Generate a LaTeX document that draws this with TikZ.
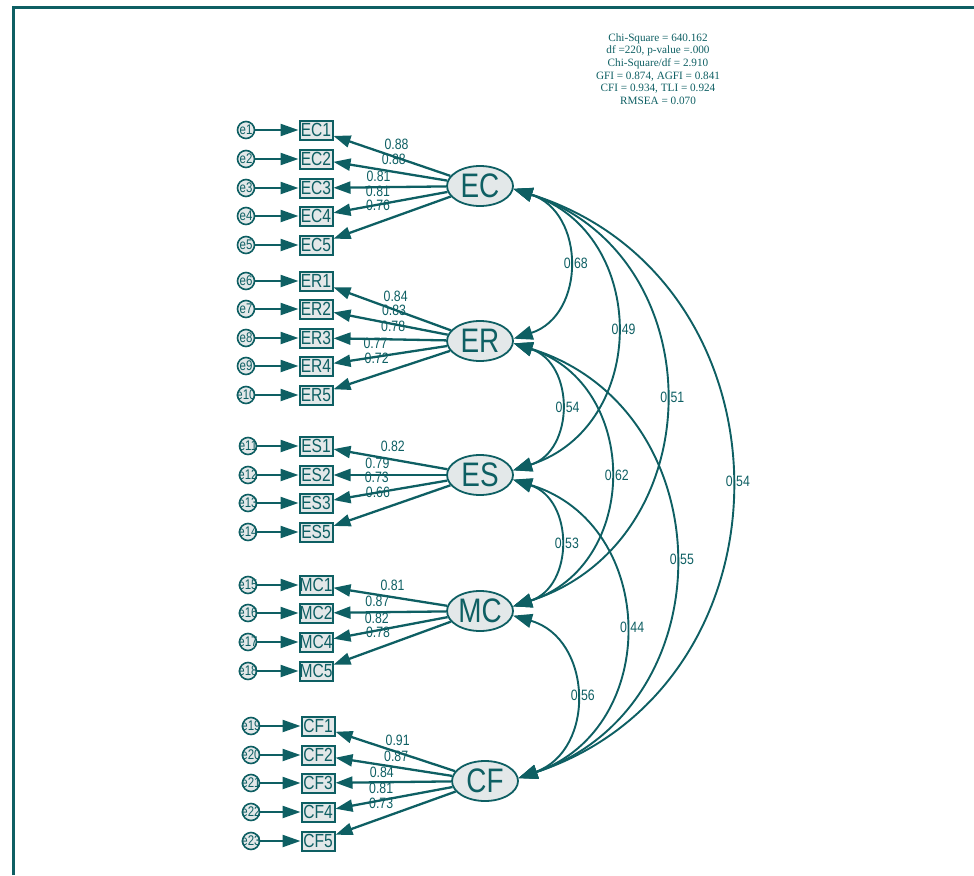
\documentclass[tikz,border=0pt]{standalone}
\usepackage{fontspec}
\setmainfont{Liberation Sans}[FakeStretch=0.82]
\newfontfamily\statsfont{Liberation Serif}
\usetikzlibrary{arrows.meta,shapes.geometric}
\definecolor{semteal}{HTML}{0E5F63}
\definecolor{semfill}{HTML}{E3E8E9}

\tikzset{
  latent/.style={ellipse, draw=semteal, fill=semfill, line width=1.8pt,
    minimum width=66pt, minimum height=40pt, inner sep=0pt, text=semteal,
    font=\fontsize{34}{34}\selectfont},
  item/.style={rectangle, draw=semteal, fill=semfill, line width=2pt,
    minimum width=33pt, minimum height=19pt, inner sep=0pt, text=semteal,
    font=\fontsize{19}{19}\selectfont},
  errc/.style={circle, draw=semteal, fill=semfill, line width=1.6pt,
    minimum size=17pt, inner sep=0pt, text=semteal,
    font=\fontsize{14}{14}\selectfont},
  coef/.style={text=semteal, inner sep=0pt, font=\fontsize{15}{15}\selectfont},
  loading/.style={draw=semteal, line width=2.3pt, -{Triangle[length=17pt,width=12pt]}},
  errarr/.style={draw=semteal, line width=2.3pt, -{Triangle[length=18pt,width=12pt]}},
  covarc/.style={draw=semteal, line width=1.9pt,
    {Triangle[length=19pt,width=14pt]}-{Triangle[length=19pt,width=14pt]},
    bend left=72, looseness=1.3},
}

\begin{document}
\begin{tikzpicture}[x=1pt,y=-1pt]
            \useasboundingbox (0,0) rectangle (974,875);
            \draw[semteal, line width=3pt] (13,875) -- (13,7.5) -- (974,7.5);

            \node[text=semteal, align=center, font=\statsfont\fontsize{11.2}{12.6}\selectfont] (fit) at (658,69)
                {Chi-Square = 640.162\\df =220, p-value =.000\\Chi-Square/df = 2.910\\GFI = 0.874, AGFI = 0.841\\CFI = 0.934, TLI = 0.924\\RMSEA = 0.070};

            % latent factors
            \node[latent](EC) at (480,186) {EC};
            \node[latent](ER) at (480,341) {ER};
            \node[latent](ES) at (480,475) {ES};
            \node[latent](MC) at (480,611) {MC};
            \node[latent](CF) at (485,781) {CF};

            % indicators
            \node[item](EC1) at (316,130) {EC1};
            \node[item](EC2) at (316,159) {EC2};
            \node[item](EC3) at (316,188) {EC3};
            \node[item](EC4) at (316,216) {EC4};
            \node[item](EC5) at (316,245) {EC5};
            \node[item](ER1) at (316,281) {ER1};
            \node[item](ER2) at (316,309) {ER2};
            \node[item](ER3) at (316,338) {ER3};
            \node[item](ER4) at (316,366) {ER4};
            \node[item](ER5) at (316,395) {ER5};
            \node[item](ES1) at (316,446) {ES1};
            \node[item](ES2) at (316,475) {ES2};
            \node[item](ES3) at (316,503) {ES3};
            \node[item](ES5) at (316,532) {ES5};
            \node[item](MC1) at (316,585) {MC1};
            \node[item](MC2) at (316,613) {MC2};
            \node[item](MC4) at (316,642) {MC4};
            \node[item](MC5) at (316,671) {MC5};
            \node[item](CF1) at (318,726) {CF1};
            \node[item](CF2) at (318,755) {CF2};
            \node[item](CF3) at (318,783) {CF3};
            \node[item](CF4) at (318,812) {CF4};
            \node[item](CF5) at (318,841) {CF5};

            % error terms
            \node[errc](e1)  at (246,130) {\makebox[0pt]{e1}};
            \node[errc](e2)  at (246,159) {\makebox[0pt]{e2}};
            \node[errc](e3)  at (246,188) {\makebox[0pt]{e3}};
            \node[errc](e4)  at (246,216) {\makebox[0pt]{e4}};
            \node[errc](e5)  at (246,245) {\makebox[0pt]{e5}};
            \node[errc](e6)  at (246,281) {\makebox[0pt]{e6}};
            \node[errc](e7)  at (246,309) {\makebox[0pt]{e7}};
            \node[errc](e8)  at (246,338) {\makebox[0pt]{e8}};
            \node[errc](e9)  at (246,366) {\makebox[0pt]{e9}};
            \node[errc](e10) at (246,395) {\makebox[0pt]{e10}};
            \node[errc](e11) at (248,446) {\makebox[0pt]{e11}};
            \node[errc](e12) at (248,475) {\makebox[0pt]{e12}};
            \node[errc](e13) at (248,503) {\makebox[0pt]{e13}};
            \node[errc](e14) at (248,532) {\makebox[0pt]{e14}};
            \node[errc](e15) at (248,585) {\makebox[0pt]{e15}};
            \node[errc](e16) at (248,613) {\makebox[0pt]{e16}};
            \node[errc](e17) at (248,642) {\makebox[0pt]{e17}};
            \node[errc](e18) at (248,671) {\makebox[0pt]{e18}};
            \node[errc](e19) at (251,726) {\makebox[0pt]{e19}};
            \node[errc](e20) at (251,755) {\makebox[0pt]{e20}};
            \node[errc](e21) at (251,783) {\makebox[0pt]{e21}};
            \node[errc](e22) at (251,812) {\makebox[0pt]{e22}};
            \node[errc](e23) at (251,841) {\makebox[0pt]{e23}};

            \path
                (e1) edge [errarr] (EC1)   (e2) edge [errarr] (EC2)   (e3) edge [errarr] (EC3)
                (e4) edge [errarr] (EC4)   (e5) edge [errarr] (EC5)
                (e6) edge [errarr] (ER1)   (e7) edge [errarr] (ER2)   (e8) edge [errarr] (ER3)
                (e9) edge [errarr] (ER4)   (e10) edge [errarr] (ER5)
                (e11) edge [errarr] (ES1)  (e12) edge [errarr] (ES2)  (e13) edge [errarr] (ES3)
                (e14) edge [errarr] (ES5)
                (e15) edge [errarr] (MC1)  (e16) edge [errarr] (MC2)  (e17) edge [errarr] (MC4)
                (e18) edge [errarr] (MC5)
                (e19) edge [errarr] (CF1)  (e20) edge [errarr] (CF2)  (e21) edge [errarr] (CF3)
                (e22) edge [errarr] (CF4)  (e23) edge [errarr] (CF5)
                ;

            % factor loadings
            \path
                (EC) edge [loading] node[coef, pos=.46, yshift=13pt] {0.88} (EC1)
                     edge [loading] node[coef, pos=.47, yshift=12pt] {0.88} (EC2)
                     edge [loading] node[coef, pos=.60, yshift=11pt] {0.81} (EC3)
                     edge [loading] node[coef, pos=.61, yshift=13pt] {0.81} (EC4)
                     edge [loading] node[coef, pos=.62, yshift=17pt] {0.76} (EC5)
                (ER) edge [loading] node[coef, pos=.47, yshift=14pt] {0.84} (ER1)
                     edge [loading] node[coef, pos=.47, yshift=14pt] {0.83} (ER2)
                     edge [loading] node[coef, pos=.47, yshift=13pt] {0.78} (ER3)
                     edge [loading] node[coef, pos=.63, yshift=14pt] {0.77} (ER4)
                     edge [loading] node[coef, pos=.63, yshift=17pt] {0.72} (ER5)
                (ES) edge [loading] node[coef, pos=.48, yshift=13pt] {0.82} (ES1)
                     edge [loading] node[coef, pos=.61, yshift=12pt] {0.79} (ES2)
                     edge [loading] node[coef, pos=.62, yshift=15pt] {0.73} (ES3)
                     edge [loading] node[coef, pos=.62, yshift=18pt] {0.66} (ES5)
                (MC) edge [loading] node[coef, pos=.48, yshift=12pt] {0.81} (MC1)
                     edge [loading] node[coef, pos=.61, yshift=11pt] {0.87} (MC2)
                     edge [loading] node[coef, pos=.62, yshift=12pt] {0.82} (MC4)
                     edge [loading] node[coef, pos=.62, yshift=16pt] {0.78} (MC5)
                (CF) edge [loading] node[coef, pos=.48, yshift=12pt] {0.91} (CF1)
                     edge [loading] node[coef, pos=.48, yshift=11pt] {0.87} (CF2)
                     edge [loading] node[coef, pos=.60, yshift=10pt] {0.84} (CF3)
                     edge [loading] node[coef, pos=.61, yshift=12pt] {0.81} (CF4)
                     edge [loading] node[coef, pos=.62, yshift=15pt] {0.73} (CF5)
                ;

            % correlations
            \path
                (EC.-5) edge [covarc] node[coef, xshift=8pt] {0.68} (ER.4)
                        edge [covarc] node[coef, xshift=8pt] {0.49} (ES.8)
                        edge [covarc] node[coef, xshift=8pt] {0.51} (MC.8)
                        edge [covarc] node[coef, xshift=8pt] {0.54} (CF.5)
                (ER.-4) edge [covarc] node[coef, xshift=8pt] {0.54} (ES.8)
                        edge [covarc] node[coef, xshift=8pt] {0.62} (MC.8)
                        edge [covarc] node[coef, xshift=8pt] {0.55} (CF.5)
                (ES.-8) edge [covarc] node[coef, xshift=8pt] {0.53} (MC.8)
                        edge [covarc] node[coef, xshift=8pt] {0.44} (CF.5)
                (MC.-8) edge [covarc] node[coef, xshift=8pt] {0.56} (CF.5)
                ;
\end{tikzpicture}
\end{document}
